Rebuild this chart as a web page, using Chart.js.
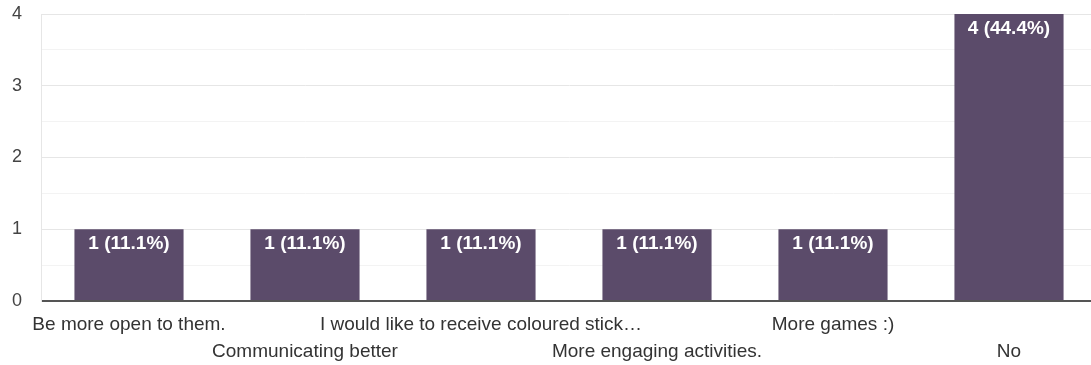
<!DOCTYPE html>
<html>
<head>
<meta charset="utf-8">
<script src="https://cdn.jsdelivr.net/npm/chart.js@4/dist/chart.umd.min.js"></script>
<style>
  html, body { margin: 0; padding: 0; background: #fff; overflow: hidden; }
  #wrap { width: 1097px; height: 365px; position: relative; }
</style>
</head>
<body>
<div id="wrap"><canvas id="grafico"></canvas></div>
<script>
const respostas = [
    'Be more open to them.',
    'Communicating better',
    'I would like to receive coloured stick\u2026',
    'More engaging activities.',
    'More games :)',
    'No'
];
const contagens = [1, 1, 1, 1, 1, 4];
const yTicks = [0, 1, 2, 3, 4];

const total = contagens.reduce((a, b) => a + b, 0);
const fonte = '"Liberation Sans", Arial, sans-serif';

// rotulos branco no topo de cada barra
const rotulosBarras = {
    id: 'rotulosBarras',
    afterDatasetsDraw(chart) {
        const ctx = chart.ctx;
        const meta = chart.getDatasetMeta(0);
        ctx.save();
        ctx.fillStyle = '#ffffff';
        ctx.font = 'bold 19px ' + fonte;
        ctx.textAlign = 'center';
        ctx.textBaseline = 'middle';
        meta.data.forEach((bar, i) => {
            const pct = (contagens[i] / total * 100).toFixed(1);
            ctx.fillText(`${contagens[i]} (${pct}%)`, bar.x, bar.y + 15);
        });
        ctx.restore();
    }
};

new Chart(document.getElementById('grafico'), {
    type: 'bar',
    data: {
        labels: respostas.map((r, i) => i % 2 === 1 ? ['', r] : [r]),
        datasets: [{
            data: contagens,
            backgroundColor: '#5b4b6a',
            barPercentage: 0.62,
            categoryPercentage: 1.0
        }]
    },
    options: {
        responsive: true,
        maintainAspectRatio: false,
        animation: false,
        layout: { padding: { top: 14, left: 0, right: 0, bottom: 0 } },
        plugins: {
            legend: { display: false },
            tooltip: { enabled: false }
        },
        scales: {
            x: {
                grid: { display: false },
                border: { display: false },
                ticks: {
                    autoSkip: false,
                    maxRotation: 0,
                    minRotation: 0,
                    padding: 2,
                    color: '#333',
                    font: { family: fonte, size: 19, lineHeight: 1.42 }
                },
                afterFit: (scale) => { scale.height = 64; }
            },
            y: {
                min: 0,
                max: 4,
                ticks: {
                    stepSize: 0.5,
                    padding: 19,
                    color: '#444',
                    font: { family: fonte, size: 18 },
                    callback: (v) => yTicks.includes(v) ? String(v) : ''
                },
                grid: {
                    drawTicks: false,
                    color: (c) => c.tick.value === 0 ? '#555' : (Number.isInteger(c.tick.value) ? '#e6e6e6' : '#f3f3f3'),
                    lineWidth: (c) => c.tick.value === 0 ? 2 : 1
                },
                border: { color: '#e6e6e6', width: 1 },
                afterFit: (scale) => {
                    scale.width = 41;
                    scale.paddingTop = 0;
                    scale.paddingBottom = 0;
                }
            }
        }
    },
    plugins: [rotulosBarras]
});
</script>
</body>
</html>
